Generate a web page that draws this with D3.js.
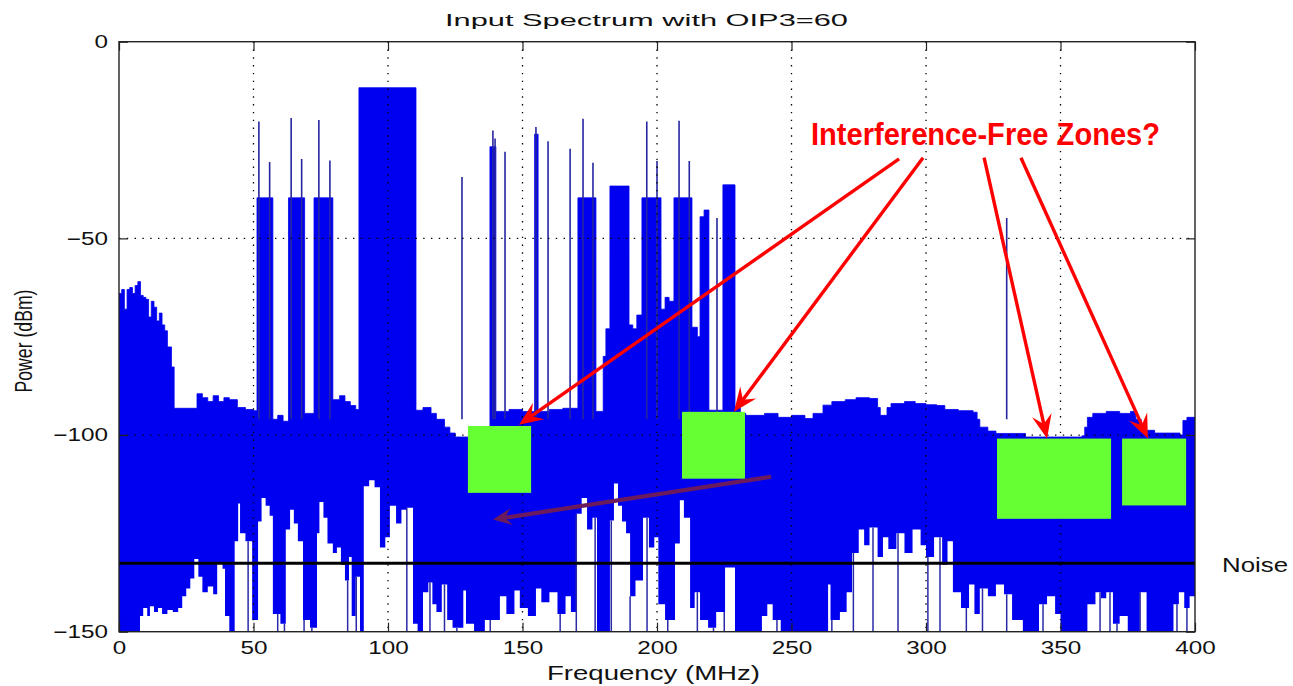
<!DOCTYPE html>
<html><head><meta charset="utf-8">
<script src="https://cdn.jsdelivr.net/npm/d3@7"></script>
<style>body{margin:0;background:#fff}svg{display:block}text{font-family:"Liberation Sans",Arial,sans-serif}</style>
</head><body>
<svg id="c" width="1293" height="686"></svg>
<script>
// ---------- data ----------
const xTicks = [0,50,100,150,200,250,300,350,400];
const yTicks = [0,-50,-100,-150];
const xGrid = [50,100,150,200,250,300,350];
const yGrid = [-50,-100];

// upper envelope of spectrum [MHz, dBm] (step)
const upperEnv = [
[0,-64],[1,-63],[2,-68],[3,-63],[4,-62.5],[5,-64],[6,-62],[7,-61],[8,-64.5],[9,-65],[10,-65.5],[11,-70],[12,-66],[13,-67.5],[14,-71],[15,-69],[16,-72],[17,-73.5],[18,-77.6],[19.5,-82.7],
[20.5,-93.2],[29,-89.5],[31,-90.5],[33,-91.5],[35,-90],[37,-91.5],[39,-90.5],[41,-91],[44,-93],[47,-93.5],[50,-93.8],
[51.3,-39.7],[57.2,-96],[59,-95],[61,-96.5],[63,-39.7],[69,-94.5],[72.5,-39.7],[79.5,-91],[82,-90],[84,-91.5],[86,-92.5],[88,-93.5],
[89.2,-11.7],[110.4,-93.7],[113,-93],[116,-94.5],[118,-96],[121,-98],[123,-99.5],[125,-100.5],
[137.9,-26.7],[140.1,-94],[145,-93.5],[150,-94],[154.5,-23.5],[155.8,-94],[160,-93.5],[165,-93.2],
[170.6,-39.7],[177.3,-94],[180,-80],[181,-73],[182.5,-36.7],[189.6,-72],[191,-73],[192.5,-69.5],
[194.4,-39.7],[201.5,-68],[203,-65],[204.5,-66],[206.3,-39.7],[213,-72.6],[215,-75],[216,-44.5],[217.5,-42.8],[219.3,-93.7],
[224.5,-36.4],[229,-93],[231,-94.5],[233,-95],[240,-94.5],[245,-95.5],[250,-95],[255,-95.8],[258,-94.5],[261.7,-92.4],[265,-91.5],[270,-91],[274,-90.5],[279,-90.7],[282,-93],[283,-95],[285.5,-93],[287,-92],[292,-91.5],[296,-92],[300,-92.3],[304,-92.5],[307,-93.5],[312,-93.8],[317.5,-94.2],[319,-96],[320,-98],[323,-99],[326,-99.6],[337,-100.5],[358,-100.2],[359,-98],[360,-95.5],[362,-94.5],[367,-94],[372,-94.5],[376,-94],[378,-96],[380,-98.8],[385,-99.5],[394.4,-100],[395.5,-96.3],[397,-95.5],[400,-95.5]
];

// lower envelope of spectrum [MHz, dBm] (step)
const lowerEnv = [
[0,-150],[7.8,-146],[9,-144],[10.5,-146],[11.5,-143.5],[13,-145],[14.5,-144],[16,-145.5],[18,-144.5],[20,-145],[22,-144],[23.5,-141],[25,-139],[26.5,-136.5],[28,-131.5],[29.5,-136],[31,-140],[33,-138.5],[35,-140.5],[36.5,-132.5],[38.5,-134],[39.4,-146],[41,-150],
[43,-127],[44.3,-117.4],[45,-125],[47,-127],[49.5,-147],[51.7,-122],[53,-116],[54.5,-118],[56,-120.5],[57.2,-145.5],[60,-148],[62,-124],[63.6,-119],[65,-122.5],[66.5,-127],[68.4,-147],[71,-149],
[73.6,-125],[74.5,-117],[76,-121],[77.5,-127.6],[79.5,-130],[81,-128.6],[82.5,-133],[84,-137],[85.5,-131],[86.5,-146],[88,-136],[89.6,-150],[91,-113],[93,-111.5],[95,-113.3],[97,-128.6],[99,-126],[100.7,-118],[103,-122.5],[105,-119],[107,-118.5],[109.3,-148],[111,-150],
[113,-140],[115,-137.5],[116.5,-143],[118,-145],[120,-138],[122,-147],[124,-149],[128,-139.5],[129,-148],[132,-150],[136,-147],[141.6,-141],[144,-145.5],[147,-139.5],[149,-144],[152,-146],[155,-139],[157,-142.5],[160,-140],[163,-145.5],[166,-141],[168,-145],
[170,-120],[172,-116],[174,-124],[176,-121],[177.7,-150],[182.5,-121.7],[184,-112.3],[185.5,-118],[187,-122],[188.5,-125],[190,-141],[192,-137],[194.8,-121],[197,-128.6],[199,-126],[200.5,-143],[203,-147],[206.7,-127.6],[208.5,-116.6],[210,-121],[212.3,-144],[214,-140],[216,-147],[219,-149],[222,-145],[225.3,-133.7],[229,-150],
[239,-146],[241,-143],[243,-147],[246,-150],[263.6,-138],[264.5,-147],[268,-145],[270.5,-140],[272.5,-130],[275,-124],[277,-128],[279,-123.5],[282,-131],[284,-126],[286,-129],[289,-125],[292,-130],[295,-124],[298,-128],[300,-131],[303,-126],[306,-133],[308,-127],
[310,-140],[313,-144],[316,-138],[318,-145.5],[320,-139],[323,-141],[326,-138],[329,-140.5],[332,-147],[336,-150],[342,-143],[345,-141],[348,-145.5],[350,-150],[360,-143],[363,-140],[365,-141.5],[367,-140],[369.5,-148],[372,-146],[375,-150],[379.5,-140],[382,-150],[392,-143],[394,-140],[396,-144],[398,-141],[400,-141]
];

// narrow carriers [MHz, peak dBm]
const spikes = [[52,-20.3],[56,-30.6],[64,-19.4],[67.9,-29.8],[74.3,-19.9],[78.4,-30.2],[127.5,-34.4],[139,-22.6],[139.8,-24.6],[143.5,-28],[155,-21.7],[159.5,-25.3],[167.7,-27.2],[172.5,-19.6],[176.2,-30.8],[196.2,-20.3],[200,-30.3],[208.2,-20.1],[212,-30.3],[222.3,-44.8],[330,-44.8]];

// thin downward trace strokes in the low region [MHz]
const dips = [42.5,48,59,61.5,68.8,71.7,85,88.2,107,112,115.6,121,125.6,138,164,170,177,183,190,196.3,204,215,221,225,235.7,244.6,250.6,265,273,280.3,289.6,300.7,305.2,315,321,330,337.5,343.5,359.9,364.7,368.4,371,375.8,379.6,393.3,397];

const noiseLevel = -132.6;
// green zones [f0, f1, dBtop, dBbottom]
const zones = [[129.7,153.2,-97.7,-114.7],[209.3,232.7,-94.1,-111.1],[326.4,368.8,-100.9,-121.3],[372.9,396.7,-100.9,-117.9]];
// red arrows [fromF, fromDb, toF, toDb]
const zoneArrows = [[290,-29.8,148.7,-97.4],[298.9,-29.5,228.6,-94.1],[321.6,-29.5,345,-100.9],[335.3,-29.5,382.5,-100.9]];
const backArrow = [242.4,-110.6,139,-121.5];

// ---------- layout ----------
const svg = d3.select("#c");
const L = 119, R = 1195, T = 41.7, B = 631.7;
const x = d3.scaleLinear([0,400],[L,R]);
const y = d3.scaleLinear([-150,0],[B,T]);

svg.append("defs").append("clipPath").attr("id","clip")
  .append("rect").attr("x",L).attr("y",T).attr("width",R-L).attr("height",B-T);
const plot = svg.append("g").attr("clip-path","url(#clip)");

const area = d3.area().x(d=>x(d[0])).y0(y(-150)).y1(d=>y(d[1])).curve(d3.curveStepAfter);
const BLUE = "#0000f0";
plot.append("path").datum(upperEnv).attr("d",area).attr("fill",BLUE).attr("stroke",BLUE).attr("stroke-width",0.8);
plot.append("path").datum(lowerEnv).attr("d",area).attr("fill","#fff");

const bis = d3.bisector(d=>d[0]).right;
const lowerAt = f => lowerEnv[Math.max(0,bis(lowerEnv,f)-1)][1];

plot.append("g").selectAll("line").data(dips).join("line")
  .attr("x1",d=>x(d)).attr("x2",d=>x(d)).attr("y1",d=>y(lowerAt(d))).attr("y2",y(-150))
  .attr("stroke","#2a2aa8").attr("stroke-width",1.5);

plot.append("g").selectAll("line").data(spikes).join("line")
  .attr("x1",d=>x(d[0])).attr("x2",d=>x(d[0])).attr("y1",y(-96)).attr("y2",d=>y(d[1]))
  .attr("stroke","#2626a0").attr("stroke-width",1.6);

// grid
const grid = svg.append("g").attr("stroke","#000").attr("stroke-width",1.3).attr("stroke-dasharray","1.4,6.4");
grid.selectAll(".gx").data(xGrid).join("line").attr("x1",d=>x(d)).attr("x2",d=>x(d)).attr("y1",T).attr("y2",B);
grid.selectAll(".gy").data(yGrid).join("line").attr("x1",L).attr("x2",R).attr("y1",d=>y(d)).attr("y2",d=>y(d));

// noise line
svg.append("line").attr("x1",L).attr("x2",R).attr("y1",y(noiseLevel)).attr("y2",y(noiseLevel))
  .attr("stroke","#000").attr("stroke-width",3);

// axes
const SX = 1.35;
const ax = svg.append("g").attr("transform",`translate(0,${B})`)
  .call(d3.axisBottom(x).tickValues(xTicks).tickSizeInner(-9).tickSizeOuter(0).tickPadding(10));
ax.selectAll("text").attr("transform",`scale(${SX},1)`);
const axT = svg.append("g").attr("transform",`translate(0,${T})`)
  .call(d3.axisTop(x).tickValues(xTicks).tickSizeInner(-9).tickSizeOuter(0).tickFormat(""));
const ay = svg.append("g").attr("transform",`translate(${L},0)`)
  .call(d3.axisLeft(y).tickValues(yTicks).tickSizeInner(-9).tickSizeOuter(0).tickPadding(11));
ay.selectAll("text").attr("transform",`scale(${SX},1)`).attr("x",-11/SX);
const ayR = svg.append("g").attr("transform",`translate(${R},0)`)
  .call(d3.axisRight(y).tickValues(yTicks).tickSizeInner(-9).tickSizeOuter(0).tickFormat(""));
[ax,axT,ay,ayR].forEach(g=>{
  g.select(".domain").remove();
  g.selectAll("line").attr("stroke","#222").attr("stroke-width",1.2);
  g.selectAll("text").attr("font-size",18).attr("fill","#111").attr("font-family","'Liberation Sans',Arial,sans-serif");
});
svg.append("rect").attr("x",L).attr("y",T).attr("width",R-L).attr("height",B-T)
  .attr("fill","none").attr("stroke","#222").attr("stroke-width",1.4);

// texts
svg.append("text").attr("x",646.5).attr("y",26).attr("text-anchor","middle").attr("font-size",17)
  .attr("textLength",403).attr("lengthAdjust","spacingAndGlyphs").attr("fill","#111").text("Input Spectrum with OIP3=60");
svg.append("text").attr("x",653.5).attr("y",680).attr("text-anchor","middle").attr("font-size",20)
  .attr("textLength",213).attr("lengthAdjust","spacingAndGlyphs").attr("fill","#111").text("Frequency (MHz)");
svg.append("text").attr("transform","translate(32,341) scale(1.35,1) rotate(-90)").attr("text-anchor","middle").attr("font-size",17.5)
  .attr("textLength",103).attr("lengthAdjust","spacingAndGlyphs").attr("fill","#111").text("Power (dBm)");
svg.append("text").attr("x",1222).attr("y",572).attr("font-size",20)
  .attr("textLength",66).attr("lengthAdjust","spacingAndGlyphs").attr("fill","#111").text("Noise");

// green zones
svg.append("g").selectAll("rect").data(zones).join("rect")
  .attr("x",d=>x(d[0])).attr("y",d=>y(d[2])).attr("width",d=>x(d[1])-x(d[0])).attr("height",d=>y(d[3])-y(d[2]))
  .attr("fill","#66ff33");

// arrows
function arrow(g, d, color, w, len, hw, notch){
  const x1=x(d[0]), y1=y(d[1]), x2=x(d[2]), y2=y(d[3]);
  const dx=x2-x1, dy=y2-y1, n=Math.hypot(dx,dy), ux=dx/n, uy=dy/n, px=-uy, py=ux;
  g.append("line").attr("x1",x1).attr("y1",y1).attr("x2",x2-ux*notch).attr("y2",y2-uy*notch)
    .attr("stroke",color).attr("stroke-width",w);
  const pts=[[x2,y2],[x2-ux*len+px*hw,y2-uy*len+py*hw],[x2-ux*notch,y2-uy*notch],[x2-ux*len-px*hw,y2-uy*len-py*hw]];
  g.append("polygon").attr("points",pts.map(p=>p.join(",")).join(" ")).attr("fill",color);
}
const ag = svg.append("g");
zoneArrows.forEach(d=>arrow(ag,d,"#ff0000",3.4,24,10,15));
arrow(ag,backArrow,"#6b1a5e",4.2,19,8.5,12);

svg.append("text").attr("x",811).attr("y",145).attr("font-size",31).attr("font-weight","bold")
  .attr("textLength",349).attr("lengthAdjust","spacingAndGlyphs").attr("fill","#ff0000").text("Interference-Free Zones?");
</script>
</body></html>
